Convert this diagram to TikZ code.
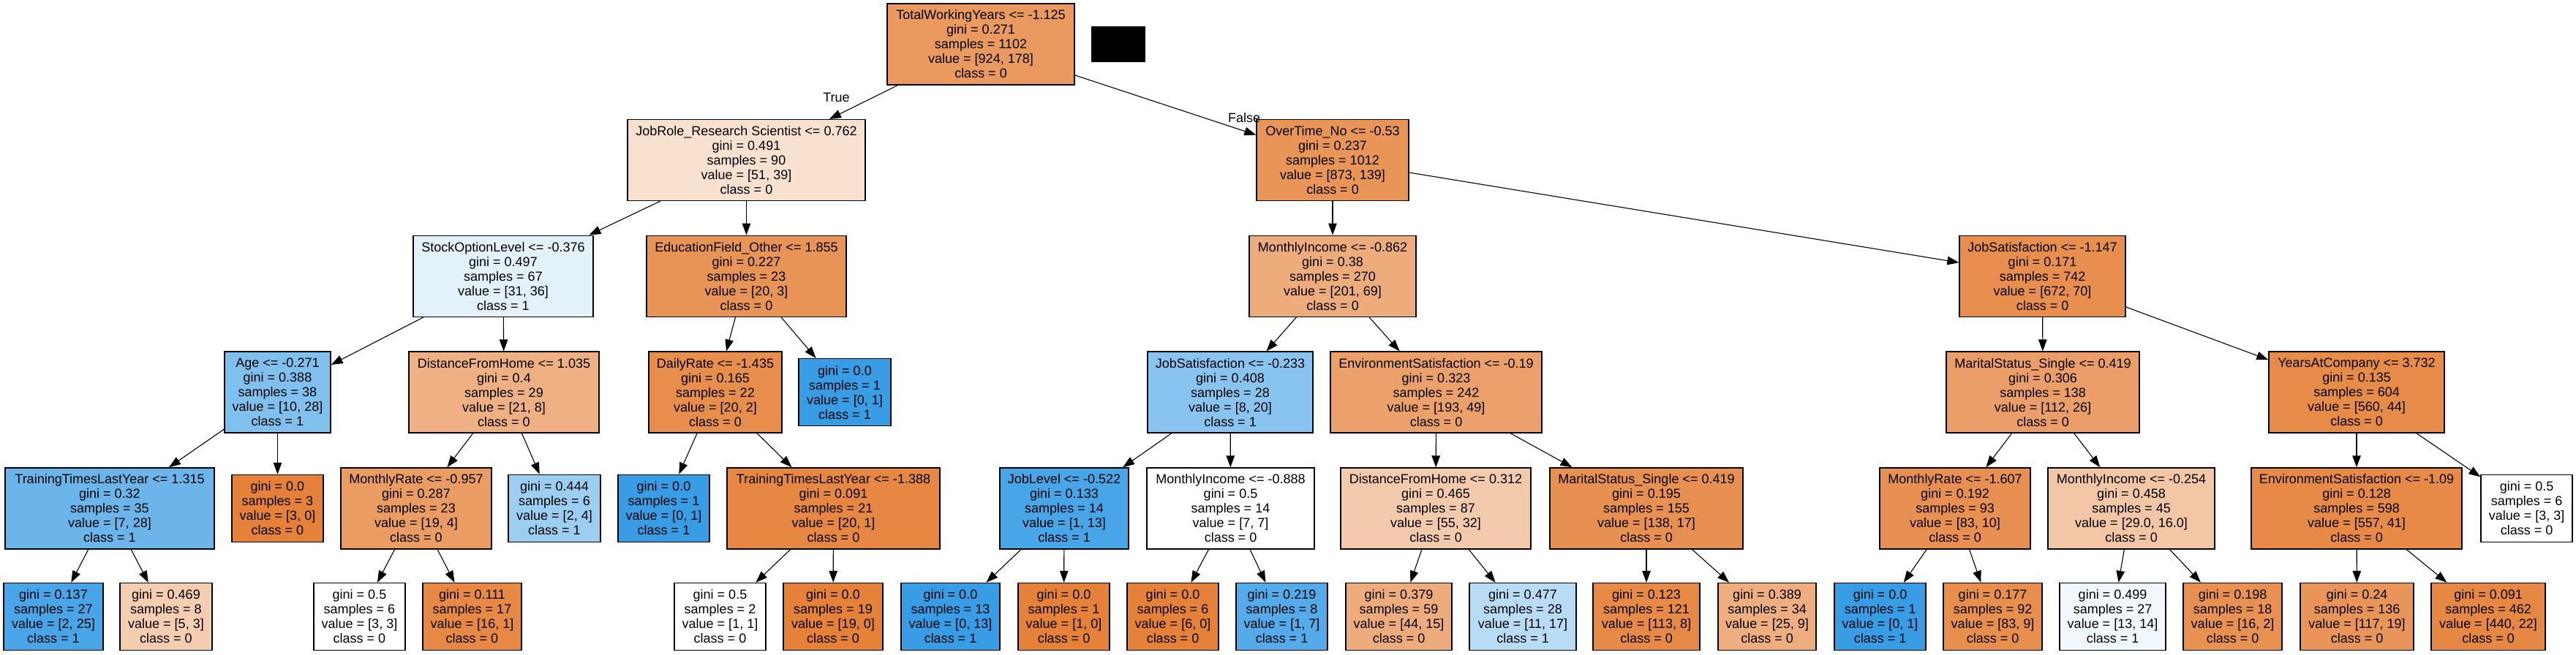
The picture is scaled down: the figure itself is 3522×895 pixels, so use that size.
\documentclass[tikz,border=0pt]{standalone}
\usepackage{fontspec}
\setmainfont{Liberation Sans}
\usetikzlibrary{arrows.meta}
\definecolor{co}{RGB}{229,129,57}
\definecolor{cb}{RGB}{57,157,229}
\tikzset{
  box/.style={draw=black, line width=1.3pt, rectangle, align=center, inner sep=0pt,
    font=\fontsize{18}{20}\selectfont, text=black},
  split/.style={box, minimum height=111pt},
  leaf/.style={box, minimum height=92pt},
  edge/.style={line width=1.1pt, -{Triangle[length=16pt,width=11.5pt]}},
  lbl/.style={inner sep=0pt, font=\fontsize{18}{20}\selectfont, text=black}
}
\begin{document}
\begin{tikzpicture}[x=1pt,y=-1pt]
\useasboundingbox[fill=white] (0,0) rectangle (3522,895);
% level 0
\node[split, minimum width=256pt, fill=co!80.7!white] (n0) at (1341,60.5) {TotalWorkingYears <= -1.125\\gini = 0.271\\samples = 1102\\value = [924, 178]\\class = 0};
\node[fill=black, inner sep=0pt, minimum width=74pt, minimum height=49pt] (redact) at (1529,60.5) {};
% level 1
\node[split, minimum width=325pt, fill=co!23.5!white] (n1) at (1020.5,219) {JobRole\_Research Scientist <= 0.762\\gini = 0.491\\samples = 90\\value = [51, 39]\\class = 0};
\node[split, minimum width=208pt, fill=co!84.1!white] (n2) at (1822,219) {OverTime\_No <= -0.53\\gini = 0.237\\samples = 1012\\value = [873, 139]\\class = 0};
% level 2
\node[split, minimum width=246pt, fill=cb!13.9!white] (n3) at (688,377.7) {StockOptionLevel <= -0.376\\gini = 0.497\\samples = 67\\value = [31, 36]\\class = 1};
\node[split, minimum width=273pt, fill=co!85!white] (n4) at (1020.5,377.7) {EducationField\_Other <= 1.855\\gini = 0.227\\samples = 23\\value = [20, 3]\\class = 0};
\node[split, minimum width=228pt, fill=co!65.7!white] (n5) at (1822,377.7) {MonthlyIncome <= -0.862\\gini = 0.38\\samples = 270\\value = [201, 69]\\class = 0};
\node[split, minimum width=227pt, fill=co!89.6!white] (n6) at (2792.5,377.7) {JobSatisfaction <= -1.147\\gini = 0.171\\samples = 742\\value = [672, 70]\\class = 0};
% level 3
\node[split, minimum width=145pt, fill=cb!64.3!white] (n7) at (379.5,536.6) {Age <= -0.271\\gini = 0.388\\samples = 38\\value = [10, 28]\\class = 1};
\node[split, minimum width=260pt, fill=co!61.9!white] (n8) at (689,536.6) {DistanceFromHome <= 1.035\\gini = 0.4\\samples = 29\\value = [21, 8]\\class = 0};
\node[split, minimum width=182pt, fill=co!90!white] (n9) at (978,536.6) {DailyRate <= -1.435\\gini = 0.165\\samples = 22\\value = [20, 2]\\class = 0};
\node[leaf, minimum width=126pt, fill=cb] (n10) at (1155,536.6) {gini = 0.0\\samples = 1\\value = [0, 1]\\class = 1};
\node[split, minimum width=226pt, fill=cb!60!white] (n11) at (1682,536.6) {JobSatisfaction <= -0.233\\gini = 0.408\\samples = 28\\value = [8, 20]\\class = 1};
\node[split, minimum width=289pt, fill=co!74.6!white] (n12) at (1963.5,536.6) {EnvironmentSatisfaction <= -0.19\\gini = 0.323\\samples = 242\\value = [193, 49]\\class = 0};
\node[split, minimum width=264pt, fill=co!76.8!white] (n13) at (2793,536.6) {MaritalStatus\_Single <= 0.419\\gini = 0.306\\samples = 138\\value = [112, 26]\\class = 0};
\node[split, minimum width=240pt, fill=co!92.1!white] (n14) at (3222,536.6) {YearsAtCompany <= 3.732\\gini = 0.135\\samples = 604\\value = [560, 44]\\class = 0};
% level 4
\node[split, minimum width=286pt, fill=cb!75!white] (n15) at (150,695.4) {TrainingTimesLastYear <= 1.315\\gini = 0.32\\samples = 35\\value = [7, 28]\\class = 1};
\node[leaf, minimum width=125pt, fill=co] (n16) at (379.5,695.4) {gini = 0.0\\samples = 3\\value = [3, 0]\\class = 0};
\node[split, minimum width=206pt, fill=co!78.9!white] (n17) at (569,695.4) {MonthlyRate <= -0.957\\gini = 0.287\\samples = 23\\value = [19, 4]\\class = 0};
\node[leaf, minimum width=126pt, fill=cb!50!white] (n18) at (758,695.4) {gini = 0.444\\samples = 6\\value = [2, 4]\\class = 1};
\node[leaf, minimum width=125pt, fill=cb] (n19) at (907.5,695.4) {gini = 0.0\\samples = 1\\value = [0, 1]\\class = 1};
\node[split, minimum width=291pt, fill=co!95!white] (n20) at (1139.5,695.4) {TrainingTimesLastYear <= -1.388\\gini = 0.091\\samples = 21\\value = [20, 1]\\class = 0};
\node[split, minimum width=176pt, fill=cb!92.3!white] (n21) at (1455,695.4) {JobLevel <= -0.522\\gini = 0.133\\samples = 14\\value = [1, 13]\\class = 1};
\node[split, minimum width=229pt, fill=white] (n22) at (1682.5,695.4) {MonthlyIncome <= -0.888\\gini = 0.5\\samples = 14\\value = [7, 7]\\class = 0};
\node[split, minimum width=260pt, fill=co!41.8!white] (n23) at (1963,695.4) {DistanceFromHome <= 0.312\\gini = 0.465\\samples = 87\\value = [55, 32]\\class = 0};
\node[split, minimum width=264pt, fill=co!87.7!white] (n24) at (2251,695.4) {MaritalStatus\_Single <= 0.419\\gini = 0.195\\samples = 155\\value = [138, 17]\\class = 0};
\node[split, minimum width=206pt, fill=co!88!white] (n25) at (2673,695.4) {MonthlyRate <= -1.607\\gini = 0.192\\samples = 93\\value = [83, 10]\\class = 0};
\node[split, minimum width=228pt, fill=co!44.8!white] (n26) at (2914,695.4) {MonthlyIncome <= -0.254\\gini = 0.458\\samples = 45\\value = [29.0, 16.0]\\class = 0};
\node[split, minimum width=288pt, fill=co!92.6!white] (n27) at (3222,695.4) {EnvironmentSatisfaction <= -1.09\\gini = 0.128\\samples = 598\\value = [557, 41]\\class = 0};
\node[leaf, minimum width=125pt, fill=white] (n28) at (3454.5,695.4) {gini = 0.5\\samples = 6\\value = [3, 3]\\class = 0};
% level 5
\node[leaf, minimum width=136pt, fill=cb!92!white] (n29) at (73,843.5) {gini = 0.137\\samples = 27\\value = [2, 25]\\class = 1};
\node[leaf, minimum width=126pt, fill=co!40!white] (n30) at (227,843.5) {gini = 0.469\\samples = 8\\value = [5, 3]\\class = 0};
\node[leaf, minimum width=125pt, fill=white] (n31) at (491.5,843.5) {gini = 0.5\\samples = 6\\value = [3, 3]\\class = 0};
\node[leaf, minimum width=135pt, fill=co!93.8!white] (n32) at (645.5,843.5) {gini = 0.111\\samples = 17\\value = [16, 1]\\class = 0};
\node[leaf, minimum width=125pt, fill=white] (n33) at (984.5,843.5) {gini = 0.5\\samples = 2\\value = [1, 1]\\class = 0};
\node[leaf, minimum width=136pt, fill=co] (n34) at (1139,843.5) {gini = 0.0\\samples = 19\\value = [19, 0]\\class = 0};
\node[leaf, minimum width=135pt, fill=cb] (n35) at (1299.5,843.5) {gini = 0.0\\samples = 13\\value = [0, 13]\\class = 1};
\node[leaf, minimum width=125pt, fill=co] (n36) at (1454.5,843.5) {gini = 0.0\\samples = 1\\value = [1, 0]\\class = 0};
\node[leaf, minimum width=125pt, fill=co] (n37) at (1603.5,843.5) {gini = 0.0\\samples = 6\\value = [6, 0]\\class = 0};
\node[leaf, minimum width=125pt, fill=cb!85.7!white] (n38) at (1752.5,843.5) {gini = 0.219\\samples = 8\\value = [1, 7]\\class = 1};
\node[leaf, minimum width=145pt, fill=co!65.9!white] (n39) at (1912.5,843.5) {gini = 0.379\\samples = 59\\value = [44, 15]\\class = 0};
\node[leaf, minimum width=146pt, fill=cb!35.3!white] (n40) at (2082,843.5) {gini = 0.477\\samples = 28\\value = [11, 17]\\class = 1};
\node[leaf, minimum width=146pt, fill=co!92.9!white] (n41) at (2251,843.5) {gini = 0.123\\samples = 121\\value = [113, 8]\\class = 0};
\node[leaf, minimum width=134pt, fill=co!64!white] (n42) at (2416,843.5) {gini = 0.389\\samples = 34\\value = [25, 9]\\class = 0};
\node[leaf, minimum width=125pt, fill=cb] (n43) at (2570.5,843.5) {gini = 0.0\\samples = 1\\value = [0, 1]\\class = 1};
\node[leaf, minimum width=135pt, fill=co!89.2!white] (n44) at (2724.5,843.5) {gini = 0.177\\samples = 92\\value = [83, 9]\\class = 0};
\node[leaf, minimum width=145pt, fill=cb!7.1!white] (n45) at (2888.5,843.5) {gini = 0.499\\samples = 27\\value = [13, 14]\\class = 1};
\node[leaf, minimum width=135pt, fill=co!87.5!white] (n46) at (3052.5,843.5) {gini = 0.198\\samples = 18\\value = [16, 2]\\class = 0};
\node[leaf, minimum width=155pt, fill=co!83.8!white] (n47) at (3222.5,843.5) {gini = 0.24\\samples = 136\\value = [117, 19]\\class = 0};
\node[leaf, minimum width=156pt, fill=co!95!white] (n48) at (3402,843.5) {gini = 0.091\\samples = 462\\value = [440, 22]\\class = 0};
% edge labels
\node[lbl] (ltrue) at (1143.5,133) {True};
\node[lbl] (lfalse) at (1701,161) {False};
% edges
\foreach \a/\b in {n0/n1,n0/n2,n1/n3,n1/n4,n2/n5,n2/n6,n3/n7,n3/n8,n4/n9,n4/n10,
  n5/n11,n5/n12,n6/n13,n6/n14,n7/n15,n7/n16,n8/n17,n8/n18,n9/n19,n9/n20,
  n11/n21,n11/n22,n12/n23,n12/n24,n13/n25,n13/n26,n14/n27,n14/n28,
  n15/n29,n15/n30,n17/n31,n17/n32,n20/n33,n20/n34,n21/n35,n21/n36,
  n22/n37,n22/n38,n23/n39,n23/n40,n24/n41,n24/n42,n25/n43,n25/n44,
  n26/n45,n26/n46,n27/n47,n27/n48}
  \draw[edge] (\a) -- (\b);
\end{tikzpicture}
\end{document}
